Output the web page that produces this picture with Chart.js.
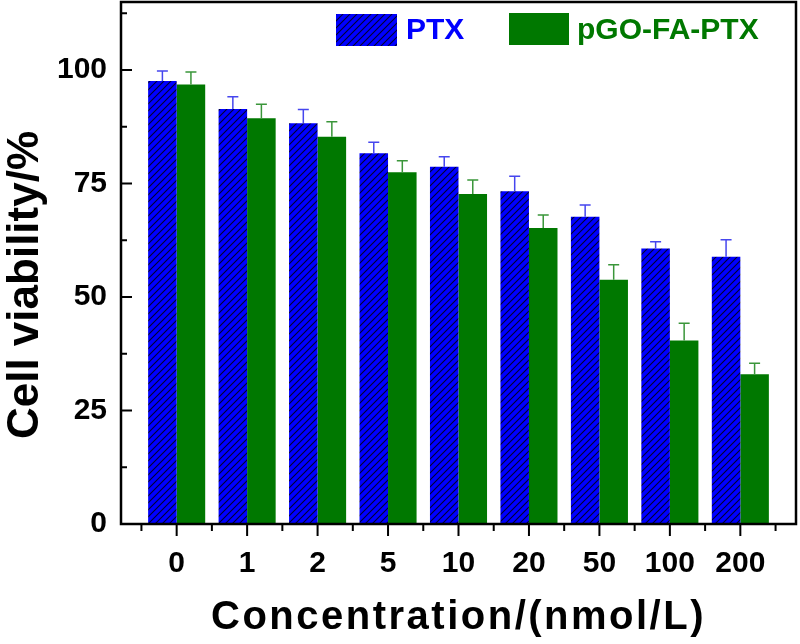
<!DOCTYPE html>
<html>
<head>
<meta charset="utf-8">
<script src="https://cdn.jsdelivr.net/npm/chart.js@4.4.1/dist/chart.umd.min.js"></script>
<style>
html,body{margin:0;padding:0;background:#fff;}
#wrap{width:800px;height:644px;}
</style>
</head>
<body>
<div id="wrap"><canvas id="grafviab" width="800" height="644"></canvas></div>
<script>
// datos
var concentraciones = ["0","1","2","5","10","20","50","100","200"];
var ptxMedia  = [97.6, 91.4, 88.3, 81.7, 78.7, 73.3, 67.7, 60.7, 58.9];
var ptxError  = [2.2, 2.7, 3.0, 2.4, 2.2, 3.3, 2.6, 1.5, 3.7];
var pgoMedia  = [96.8, 89.4, 85.3, 77.5, 72.7, 65.2, 53.8, 40.4, 33.0];
var pgoError  = [2.8, 3.1, 3.3, 2.5, 3.1, 2.9, 3.3, 3.8, 2.4];
var nombres   = ["PTX", "pGO-FA-PTX"];
var yTicks    = [0, 25, 50, 75, 100];
var yMenores  = [12.5, 37.5, 62.5, 87.5, 112.5];

var azul = "#0000ff";
var verde = "#007800";
var fuente = "'Liberation Sans', Arial, sans-serif";

var canvas = document.getElementById("grafviab");
var ctx = canvas.getContext("2d");

function patronRayado(){
    var c = document.createElement("canvas");
    c.width = 7; c.height = 7;
    var x = c.getContext("2d");
    x.fillStyle = azul;
    x.fillRect(0, 0, 7, 7);
    x.strokeStyle = "#000030";
    x.lineWidth = 1.1;
    x.beginPath();
    x.moveTo(-1, 8); x.lineTo(8, -1);
    x.moveTo(-1, 1); x.lineTo(1, -1);
    x.moveTo(6, 8); x.lineTo(8, 6);
    x.stroke();
    return ctx.createPattern(c, "repeat");
}
var rayado = patronRayado();

var puntosPtx = [], puntosPgo = [];
for (var i in concentraciones){
    puntosPtx.push({x: Number(i), y: ptxMedia[i]});
    puntosPgo.push({x: Number(i), y: pgoMedia[i]});
}

var barrasError = {
    id: "barrasError",
    afterDatasetsDraw: function(chart){
        var c = chart.ctx, ys = chart.scales.y;
        var errores = [ptxError, pgoError];
        var colores = ["#4646ee", "#3a963a"];
        chart.data.datasets.forEach(function(ds, d){
            var meta = chart.getDatasetMeta(d);
            meta.data.forEach(function(bar, k){
                var yTop = ys.getPixelForValue(ds.data[k].y + errores[d][k]);
                c.save();
                c.strokeStyle = colores[d];
                c.lineWidth = 1.5;
                c.beginPath();
                c.moveTo(bar.x, bar.y); c.lineTo(bar.x, yTop);
                c.moveTo(bar.x - 5.5, yTop); c.lineTo(bar.x + 5.5, yTop);
                c.stroke();
                c.restore();
            });
        });
    }
};

var marco = {
    id: "marco",
    afterDraw: function(chart){
        var c = chart.ctx, a = chart.chartArea;
        var xs = chart.scales.x, ys = chart.scales.y;
        c.save();
        c.strokeStyle = "#000";
        c.lineWidth = 2.5;
        c.strokeRect(a.left, a.top, a.right - a.left, a.bottom - a.top);

        // marcas eje x
        c.lineWidth = 2;
        c.beginPath();
        for (var k = 0; k < concentraciones.length; k++){
            var px = xs.getPixelForValue(k);
            c.moveTo(px, a.bottom); c.lineTo(px, a.bottom + 12);
        }
        for (var k = -0.5; k < concentraciones.length; k++){
            var px = xs.getPixelForValue(k);
            c.moveTo(px, a.bottom); c.lineTo(px, a.bottom + 7);
        }
        // marcas eje y
        yTicks.forEach(function(v){
            var py = ys.getPixelForValue(v);
            c.moveTo(a.left, py); c.lineTo(a.left + 11, py);
        });
        yMenores.forEach(function(v){
            var py = ys.getPixelForValue(v);
            c.moveTo(a.left, py); c.lineTo(a.left + 6, py);
        });
        c.stroke();

        // leyenda
        var caja = [[336, 14, 61, 32], [509, 13, 60, 32]];
        var fill = [rayado, verde];
        var col = [azul, verde];
        var tx = [406, 577];
        c.font = "bold 30px " + fuente;
        c.textBaseline = "alphabetic";
        for (var j = 0; j < 2; j++){
            c.fillStyle = fill[j];
            c.fillRect(caja[j][0], caja[j][1], caja[j][2], caja[j][3]);
            c.fillStyle = col[j];
            c.fillText(nombres[j], tx[j], 39);
        }

        // titulos
        c.fillStyle = "#000";
        c.font = "bold 40px " + fuente;
        c.textAlign = "center";
        c.letterSpacing = "2.5px";
        c.fillText("Concentration/(nmol/L)", (a.left + a.right) / 2, 629);
        c.letterSpacing = "0px";

        c.translate(38, 285);
        c.rotate(-Math.PI / 2);
        c.font = "bold 44px " + fuente;
        c.fillText("Cell viability/%", 0, 0);
        c.restore();
    }
};

new Chart(canvas, {
    type: "bar",
    data: {
        datasets: [
            {label: nombres[0], data: puntosPtx, backgroundColor: rayado, borderWidth: 0},
            {label: nombres[1], data: puntosPgo, backgroundColor: verde, borderWidth: 0}
        ]
    },
    options: {
        responsive: false,
        animation: false,
        events: [],
        categoryPercentage: 0.81,
        barPercentage: 1.0,
        layout: { padding: { top: 2, right: 4, left: 0, bottom: 0 } },
        plugins: { legend: { display: false }, tooltip: { enabled: false } },
        scales: {
            x: {
                type: "linear",
                offset: false,
                min: -0.79, max: 8.79,
                grid: { display: false, drawTicks: false },
                border: { display: false },
                afterBuildTicks: function(s){ s.ticks = concentraciones.map(function(c, k){ return {value: k}; }); },
                afterFit: function(s){ s.height = 120; s.paddingLeft = 0; s.paddingRight = 0; },
                ticks: {
                    padding: 22,
                    color: "#000",
                    maxRotation: 0,
                    autoSkip: false,
                    font: { family: fuente, size: 30, weight: "bold" },
                    callback: function(v){ return concentraciones[v]; }
                }
            },
            y: {
                min: 0, max: 115,
                grid: { display: false, drawTicks: false },
                border: { display: false },
                afterBuildTicks: function(s){ s.ticks = yTicks.map(function(v){ return {value: v}; }); },
                afterFit: function(s){ s.width = 121; s.paddingTop = 0; s.paddingBottom = 0; },
                ticks: {
                    padding: 14,
                    color: "#000",
                    font: { family: fuente, size: 30, weight: "bold" }
                }
            }
        }
    },
    plugins: [barrasError, marco]
});
</script>
</body>
</html>
